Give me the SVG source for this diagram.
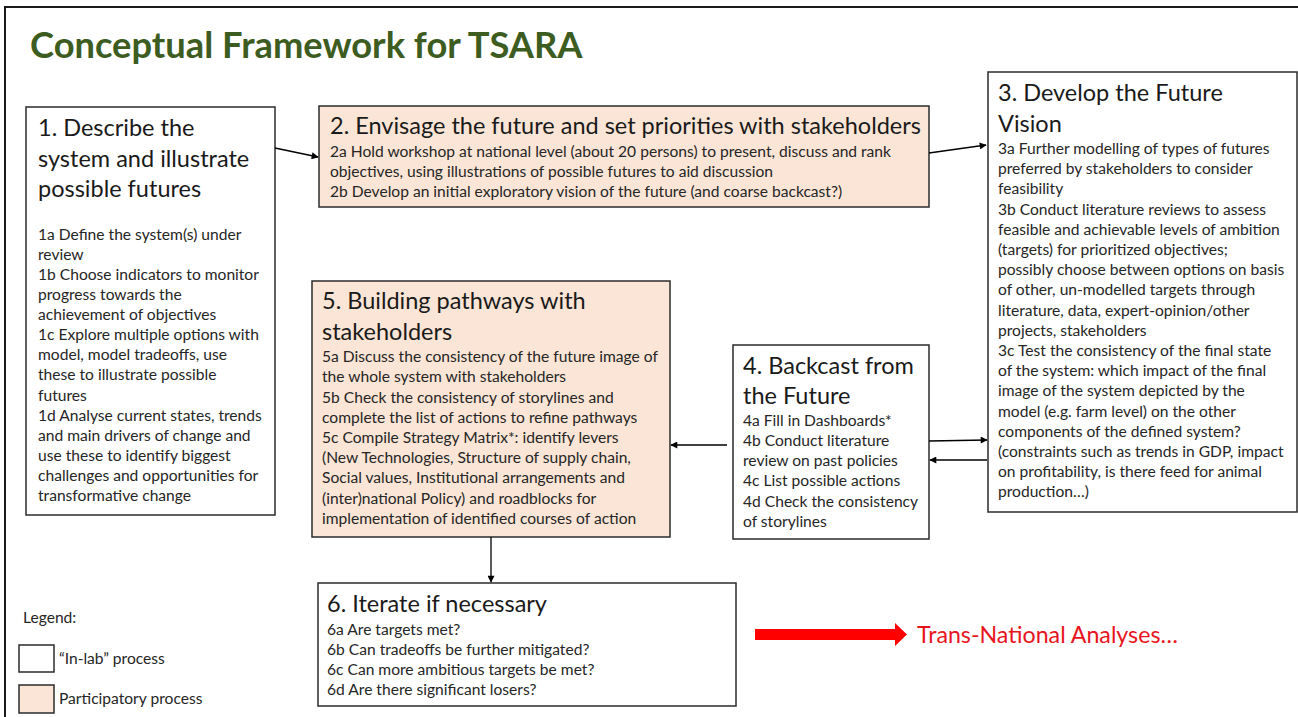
<svg xmlns="http://www.w3.org/2000/svg" width="1298" height="717" viewBox="0 0 1298 717">
  <defs>
    <marker id="arrow" viewBox="0 0 10 10" refX="9" refY="5" markerWidth="9" markerHeight="7" markerUnits="userSpaceOnUse" orient="auto">
      <path d="M0,0 L10,5 L0,10 z" fill="#000"/>
    </marker>
    <style>
      .box { fill: #ffffff; stroke: #2b2b2b; stroke-width: 1.5; }
      .part { fill: #fbe5d6; stroke: #2b2b2b; stroke-width: 1.5; }
      .head { font-family: Lato, "Open Sans", sans-serif; font-size: 23.5px; fill: #1a1a1a; }
      .body { font-family: Lato, "Open Sans", sans-serif; font-size: 15.6px; fill: #262626; }
      .leg { font-family: Lato, "Open Sans", sans-serif; font-size: 15.6px; fill: #262626; }
      .conn { stroke: #000; stroke-width: 1.3; fill: none; marker-end: url(#arrow); }
    </style>
  </defs>

  <rect width="1298" height="717" fill="#ffffff"/>
  <!-- slide frame -->
  <path d="M5,717 L5,7 L1298,7" fill="none" stroke="#1a1a1a" stroke-width="2"/>

  <text x="30" y="58" font-family="Lato, 'Open Sans', sans-serif" font-size="36.3" font-weight="bold" fill="#3d5c1f">Conceptual Framework for TSARA</text>

  <!-- 1. Describe -->
  <g id="node1">
    <rect class="box" x="26" y="107" width="249" height="408"/>
    <text class="head"><tspan x="38" y="136">1. Describe the</tspan><tspan x="38" y="167">system and illustrate</tspan><tspan x="38" y="197">possible futures</tspan></text>
    <text class="body">
      <tspan x="38" y="240">1a Define the system(s) under</tspan>
      <tspan x="38" y="260">review</tspan>
      <tspan x="38" y="280">1b Choose indicators to monitor</tspan>
      <tspan x="38" y="300">progress towards the</tspan>
      <tspan x="38" y="320">achievement of objectives</tspan>
      <tspan x="38" y="340">1c Explore multiple options with</tspan>
      <tspan x="38" y="360">model, model tradeoffs, use</tspan>
      <tspan x="38" y="380">these to illustrate possible</tspan>
      <tspan x="38" y="401">futures</tspan>
      <tspan x="38" y="421">1d Analyse current states, trends</tspan>
      <tspan x="38" y="441">and main drivers of change and</tspan>
      <tspan x="38" y="461">use these to identify biggest</tspan>
      <tspan x="38" y="481">challenges and opportunities for</tspan>
      <tspan x="38" y="501">transformative change</tspan>
    </text>
  </g>

  <!-- 2. Envisage -->
  <g id="node2">
    <rect class="part" x="319" y="106" width="610" height="101"/>
    <text class="head" x="330" y="134">2. Envisage the future and set priorities with stakeholders</text>
    <text class="body">
      <tspan x="330" y="157">2a Hold workshop at national level (about 20 persons) to present, discuss and rank</tspan>
      <tspan x="330" y="177">objectives, using illustrations of possible futures to aid discussion</tspan>
      <tspan x="330" y="197">2b Develop an initial exploratory vision of the future (and coarse backcast?)</tspan>
    </text>
  </g>

  <!-- 3. Develop -->
  <g id="node3">
    <rect class="box" x="988" y="72" width="309" height="440"/>
    <text class="head"><tspan x="998" y="101">3. Develop the Future</tspan><tspan x="998" y="132">Vision</tspan></text>
    <text class="body">
      <tspan x="998" y="154">3a Further modelling of types of futures</tspan>
      <tspan x="998" y="174">preferred by stakeholders to consider</tspan>
      <tspan x="998" y="194">feasibility</tspan>
      <tspan x="998" y="215">3b Conduct literature reviews to assess</tspan>
      <tspan x="998" y="235">feasible and achievable levels of ambition</tspan>
      <tspan x="998" y="255">(targets) for prioritized objectives;</tspan>
      <tspan x="998" y="275">possibly choose between options on basis</tspan>
      <tspan x="998" y="295">of other, un-modelled targets through</tspan>
      <tspan x="998" y="316">literature, data, expert-opinion/other</tspan>
      <tspan x="998" y="336">projects, stakeholders</tspan>
      <tspan x="998" y="356">3c Test the consistency of the final state</tspan>
      <tspan x="998" y="376">of the system: which impact of the final</tspan>
      <tspan x="998" y="396">image of the system depicted by the</tspan>
      <tspan x="998" y="417">model (e.g. farm level) on the other</tspan>
      <tspan x="998" y="437">components of the defined system?</tspan>
      <tspan x="998" y="457">(constraints such as trends in GDP, impact</tspan>
      <tspan x="998" y="477">on profitability, is there feed for animal</tspan>
      <tspan x="998" y="497">production…)</tspan>
    </text>
  </g>

  <!-- 4. Backcast -->
  <g id="node4">
    <rect class="box" x="733" y="345" width="196" height="194"/>
    <text class="head"><tspan x="743" y="374">4. Backcast from</tspan><tspan x="743" y="404">the Future</tspan></text>
    <text class="body">
      <tspan x="743" y="426">4a Fill in Dashboards*</tspan>
      <tspan x="743" y="446">4b Conduct literature</tspan>
      <tspan x="743" y="466">review on past policies</tspan>
      <tspan x="743" y="486">4c List possible actions</tspan>
      <tspan x="743" y="507">4d Check the consistency</tspan>
      <tspan x="743" y="527">of storylines</tspan>
    </text>
  </g>

  <!-- 5. Building pathways -->
  <g id="node5">
    <rect class="part" x="312" y="281" width="358" height="256"/>
    <text class="head"><tspan x="322" y="309">5. Building pathways with</tspan><tspan x="322" y="340">stakeholders</tspan></text>
    <text class="body">
      <tspan x="322" y="362">5a Discuss the consistency of the future image of</tspan>
      <tspan x="322" y="382">the whole system with stakeholders</tspan>
      <tspan x="322" y="403">5b Check the consistency of storylines and</tspan>
      <tspan x="322" y="423">complete the list of actions to refine pathways</tspan>
      <tspan x="322" y="443">5c Compile Strategy Matrix*: identify levers</tspan>
      <tspan x="322" y="463">(New Technologies, Structure of supply chain,</tspan>
      <tspan x="322" y="483">Social values, Institutional arrangements and</tspan>
      <tspan x="322" y="504">(inter)national Policy) and roadblocks for</tspan>
      <tspan x="322" y="524">implementation of identified courses of action</tspan>
    </text>
  </g>

  <!-- 6. Iterate -->
  <g id="node6">
    <rect class="box" x="318" y="583" width="418" height="123"/>
    <text class="head" x="327" y="612">6. Iterate if necessary</text>
    <text class="body">
      <tspan x="327" y="635">6a Are targets met?</tspan>
      <tspan x="327" y="655">6b Can tradeoffs be further mitigated?</tspan>
      <tspan x="327" y="675">6c Can more ambitious targets be met?</tspan>
      <tspan x="327" y="695">6d Are there significant losers?</tspan>
    </text>
  </g>

  <!-- trans-national outlook -->
  <g id="outlook">
    <polygon points="755,629 895,629 895,623 907,634.5 895,646 895,640 755,640" fill="#ff0000"/>
    <text x="917" y="643" font-family="Lato, 'Open Sans', sans-serif" font-size="23.2" fill="#e8141d">Trans-National Analyses…</text>
  </g>

  <!-- legend -->
  <g id="legend">
    <text class="leg" x="23" y="623">Legend:</text>
    <rect class="box" x="19" y="645" width="35" height="27"/>
    <text class="leg" x="59" y="664">“In-lab” process</text>
    <rect class="part" x="19" y="685" width="35" height="28"/>
    <text class="leg" x="59" y="704">Participatory process</text>
  </g>

  <!-- connectors -->
  <g id="connectors">
    <line class="conn" x1="275" y1="148" x2="318" y2="157"/>
    <line class="conn" x1="929" y1="153" x2="986" y2="145"/>
    <line class="conn" x1="929" y1="441" x2="987" y2="440"/>
    <line class="conn" x1="987" y1="460" x2="930" y2="460"/>
    <line class="conn" x1="727" y1="445" x2="671" y2="445"/>
    <line class="conn" x1="491" y1="537" x2="491" y2="582"/>
  </g>
</svg>
